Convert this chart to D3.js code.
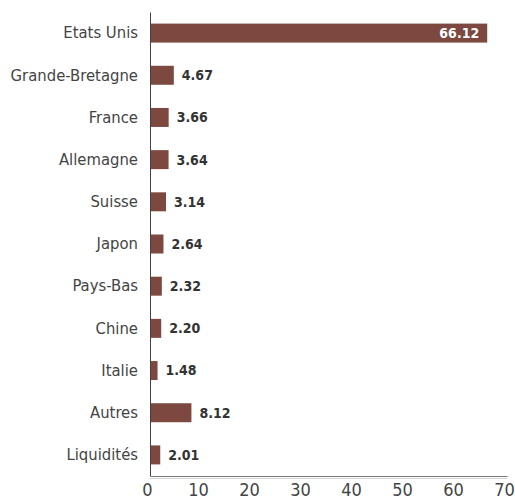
<!DOCTYPE html>
<html>
<head>
<meta charset="utf-8">
<script src="https://cdn.jsdelivr.net/npm/d3@7"></script>
<style>
  body { margin: 0; background: #fff; }
  svg text { font-family: "Liberation Sans Narrow", "DejaVu Sans Condensed", sans-serif; font-stretch: condensed; }
</style>
</head>
<body>
<div id="chart"></div>
<script>
var countries = ["Etats Unis", "Grande-Bretagne", "France", "Allemagne", "Suisse", "Japon",
                 "Pays-Bas", "Chine", "Italie", "Autres", "Liquidités"]
var weights = [66.12, 4.67, 3.66, 3.64, 3.14, 2.64, 2.32, 2.20, 1.48, 8.12, 2.01]
var xTicks = [0, 10, 20, 30, 40, 50, 60, 70]

var width = 515, height = 502
var svg = d3.select("#chart").append("svg")
    .attr("width", width)
    .attr("height", height)

var x = d3.scaleLinear().domain([0, 70]).range([150, 507])
var y = d3.scaleBand().domain(countries).range([12, 476]).paddingInner(0.55).paddingOuter(0.275)

var data = countries.map(function(c, i) { return {name: c, value: weights[i]} })

svg.selectAll(".bar")
  .data(data)
  .enter().append("rect")
  .attr("class", "bar")
  .attr("x", x(0))
  .attr("y", d => y(d.name))
  .attr("width", d => x(d.value) - x(0))
  .attr("height", y.bandwidth())
  .attr("fill", "#7d4840")

// value labels
svg.selectAll(".val")
  .data(data)
  .enter().append("text")
  .attr("class", "val")
  .attr("x", d => d.value > 50 ? x(d.value) - 8 : x(d.value) + 8)
  .attr("y", d => y(d.name) + y.bandwidth() / 2)
  .attr("dy", "0.35em")
  .attr("text-anchor", d => d.value > 50 ? "end" : "start")
  .attr("font-size", 14)
  .attr("font-weight", "bold")
  .attr("fill", d => d.value > 50 ? "#fff" : "#333")
  .text(d => d.value.toFixed(2))

// y axis
var yAxis = svg.append("g")
  .attr("class", "axis y-axis")
  .attr("transform", "translate(" + x(0) + ",0)")
  .call(d3.axisLeft(y).tickSize(0).tickPadding(12))
yAxis.select(".domain").attr("stroke", "#444")
yAxis.selectAll("text").attr("font-size", 16.5).attr("fill", "#444")

// x axis
var xAxis = svg.append("g")
  .attr("class", "axis x-axis")
  .attr("transform", "translate(0," + 476 + ")")
  .call(d3.axisBottom(x).tickValues(xTicks).tickSize(0).tickPadding(7))
xAxis.select(".domain").attr("stroke", "#777")
xAxis.selectAll("text").attr("font-size", 18).attr("fill", "#444").attr("dx", -3)

svg.append("line")
  .attr("x1", x(0)).attr("x2", x(70))
  .attr("y1", 478.5).attr("y2", 478.5)
  .attr("stroke", "#d4d4d4")
</script>
</body>
</html>
